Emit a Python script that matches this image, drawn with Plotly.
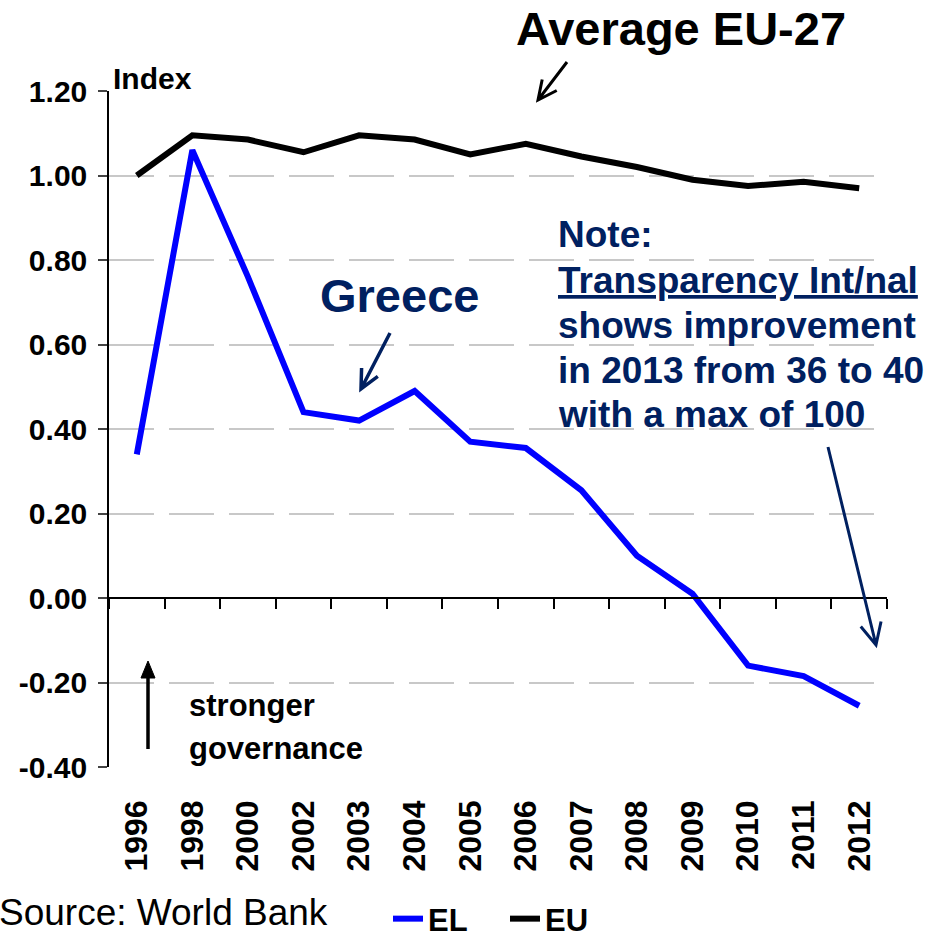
import plotly.graph_objects as go

years = ["1996", "1998", "2000", "2002", "2003", "2004", "2005", "2006",
         "2007", "2008", "2009", "2010", "2011", "2012"]
el_values = [0.34, 1.06, 0.76, 0.44, 0.42, 0.49, 0.37, 0.355,
             0.255, 0.10, 0.01, -0.16, -0.185, -0.255]
eu_values = [1.00, 1.095, 1.085, 1.055, 1.095, 1.085, 1.05, 1.075,
             1.045, 1.02, 0.99, 0.975, 0.985, 0.97]
y_ticks = [-0.40, -0.20, 0.00, 0.20, 0.40, 0.60, 0.80, 1.00, 1.20]

W, H = 941, 940
L, R, T, B = 109, 887, 91, 767
FONT = "Arial, Liberation Sans, sans-serif"
NAVY = "#002060"


def px(x):
    return (x - L) / (R - L)


def py(y):
    return (B - y) / (B - T)


fig = go.Figure()
fig.add_trace(go.Scatter(x=years, y=el_values, mode="lines", name="EL",
                         line=dict(color="#0000FF", width=6)))
fig.add_trace(go.Scatter(x=years, y=eu_values, mode="lines", name="EU",
                         line=dict(color="#000000", width=6)))
# invisible helper trace for the zero-line axis
fig.add_trace(go.Scatter(x=years, y=eu_values, xaxis="x2", mode="lines",
                         line=dict(width=0), opacity=0, showlegend=False,
                         hoverinfo="skip"))

shapes = []


def arrow(x0, y0, x1, y1, color, width, arm=21, spread=0.45):
    import math
    ang = math.atan2(y1 - y0, x1 - x0)
    a1 = ang + math.pi - spread
    a2 = ang + math.pi + spread
    p1 = (x1 + arm * math.cos(a1), y1 + arm * math.sin(a1))
    p2 = (x1 + arm * math.cos(a2), y1 + arm * math.sin(a2))
    path = (f"M {px(x0)},{py(y0)} L {px(x1)},{py(y1)} "
            f"M {px(p1[0])},{py(p1[1])} L {px(x1)},{py(y1)} L {px(p2[0])},{py(p2[1])}")
    shapes.append(dict(type="path", xref="paper", yref="paper", path=path,
                       line=dict(color=color, width=width)))


arrow(567, 62, 538, 100, "#000000", 3)
arrow(390, 333, 361, 389, NAVY, 3.5)
arrow(828, 447, 876, 645, NAVY, 3, arm=24)

# upward filled arrow
shapes.append(dict(type="line", xref="paper", yref="paper",
                   x0=px(148), y0=py(749), x1=px(148), y1=py(675),
                   line=dict(color="#000000", width=3.5)))
shapes.append(dict(type="path", xref="paper", yref="paper",
                   path=f"M {px(141)},{py(678)} L {px(148)},{py(661)} L {px(155)},{py(678)} Z",
                   fillcolor="#000000", line=dict(color="#000000", width=1)))

annotations = []


def text(s, x, y, size, color="#000000", xanchor="left", bold=True, yanchor="middle"):
    annotations.append(dict(text=f"<b>{s}</b>" if bold else s, xref="paper", yref="paper",
                            x=px(x), y=py(y), xanchor=xanchor, yanchor=yanchor,
                            showarrow=False,
                            font=dict(family=FONT, size=size, color=color)))


text("Average EU-27", 681, 0, 47, xanchor="center", yanchor="top")
text("Index", 111, 78, 30)
text("Greece", 399, 295, 47, color=NAVY, xanchor="center")
text("Note:", 556, 235, 37, color=NAVY)
text("<u>Transparency Int/nal</u>", 556, 280, 37, color=NAVY)
text("shows improvement", 556, 325, 37, color=NAVY)
text("in 2013 from 36 to 40", 556, 370, 37, color=NAVY)
text("with a max of 100", 556, 414, 37, color=NAVY)
text("stronger", 187, 705, 31)
text("governance", 187, 748, 31)
text("Source: World Bank", -3, 912, 37, bold=False)

fig.update_layout(
    width=W, height=H,
    margin=dict(l=L, r=W - R, t=T, b=H - B, autoexpand=False),
    paper_bgcolor="white", plot_bgcolor="white",
    font=dict(family=FONT, color="#000000"),
    shapes=shapes, annotations=annotations,
    showlegend=True,
    legend=dict(orientation="h", x=px(388), y=py(946), xanchor="left", yanchor="bottom",
                font=dict(family=FONT, size=31, color="#000000", weight="bold"),
                entrywidth=72, tracegroupgap=0, bgcolor="rgba(0,0,0,0)"),
    xaxis=dict(type="category", categoryorder="array", categoryarray=years,
               tickangle=-90, showgrid=False, showline=False, ticks="",
               ticklabelstandoff=26, zeroline=False, automargin=False,
               tickfont=dict(family=FONT, size=32, color="#000000", weight="bold"),
               range=[-0.5, len(years) - 0.5]),
    xaxis2=dict(type="category", categoryorder="array", categoryarray=years,
                overlaying="x", anchor="free", position=py(598), side="bottom",
                showline=True, linecolor="#000000", linewidth=1.5,
                ticks="outside", ticklen=10, tickwidth=1.5, tickcolor="#000000",
                tickson="boundaries", showticklabels=False, showgrid=False,
                automargin=False, range=[-0.5, len(years) - 0.5]),
    yaxis=dict(range=[-0.40, 1.20], tickvals=y_ticks,
               ticktext=[f"{v:.2f}" for v in y_ticks],
               showline=True, linecolor="#000000", linewidth=1.5,
               ticks="outside", ticklen=9, tickwidth=1.5, tickcolor="#444444",
               ticklabelstandoff=5, automargin=False,
               showgrid=True, gridcolor="#C8C8C8", gridwidth=1.5, griddash="45px,15px",
               zeroline=False,
               tickfont=dict(family=FONT, size=30, color="#000000", weight="bold")),
)

fig.write_html("out.html", config={"displayModeBar": False},
               post_script="document.body.style.margin='0';document.body.style.overflow='hidden';")
